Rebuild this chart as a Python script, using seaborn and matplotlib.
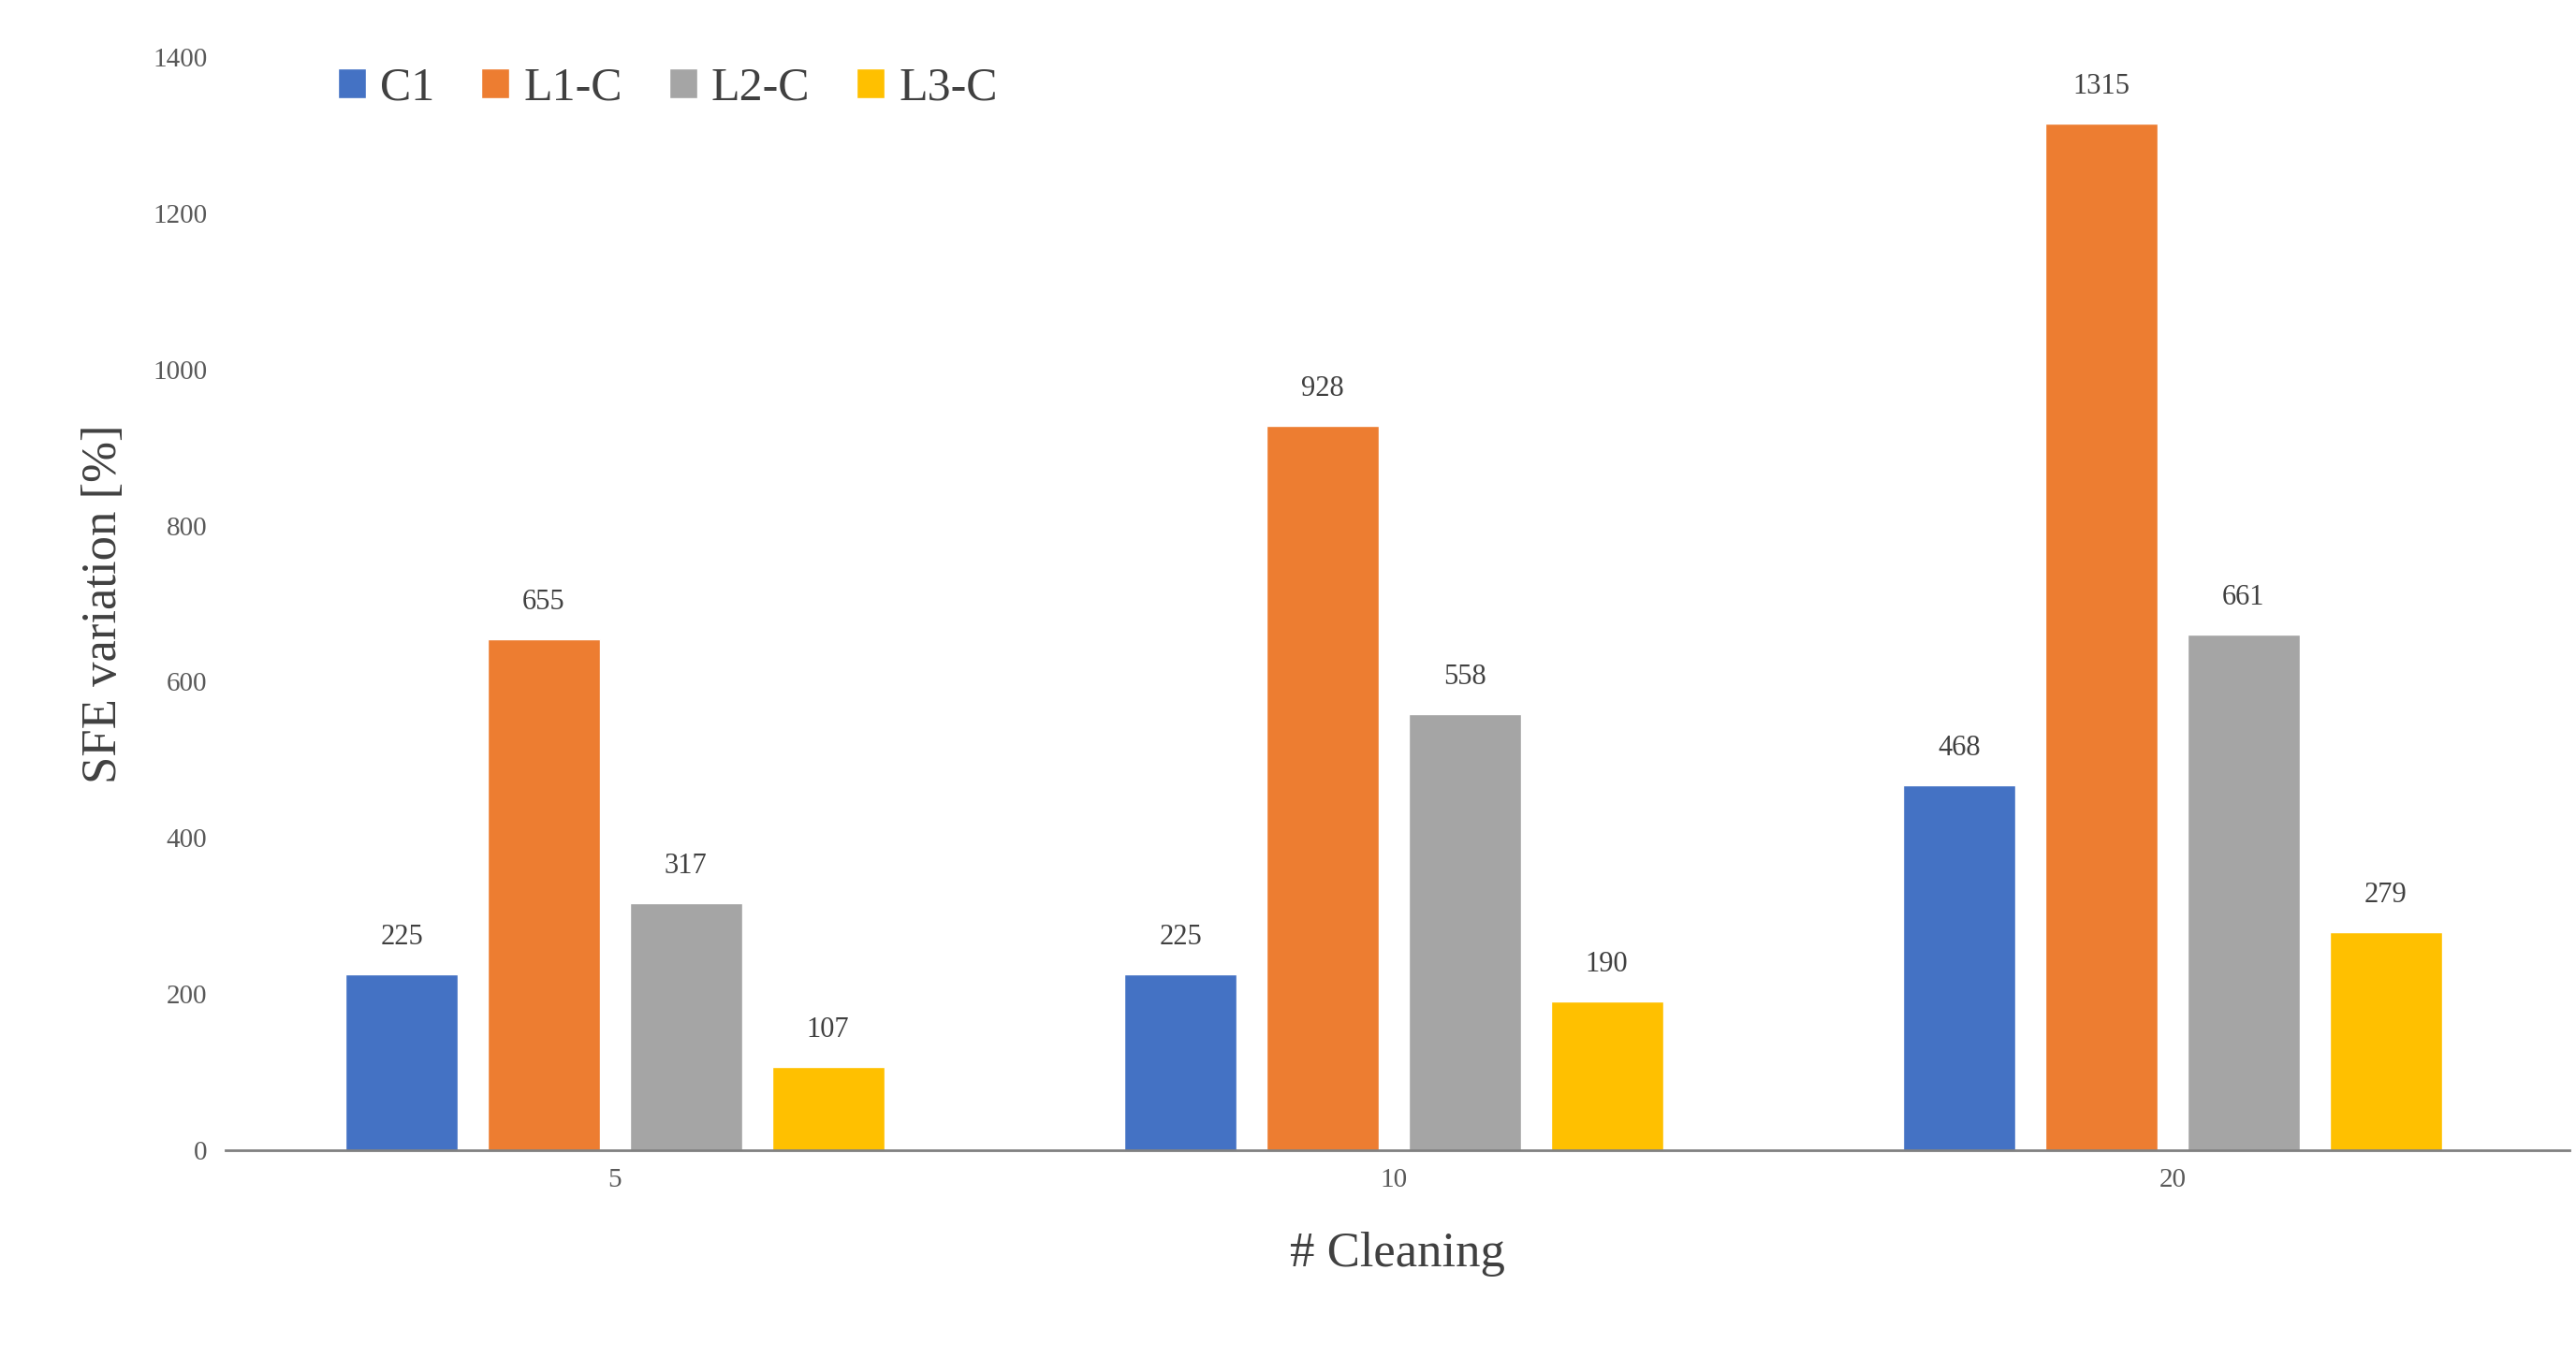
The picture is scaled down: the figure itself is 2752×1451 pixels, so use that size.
import pandas as pd
import matplotlib.pyplot as plt
import seaborn as sns

# data
cleanings = ['5', '10', '20']
series = ['C1', 'L1-C', 'L2-C', 'L3-C']
c1 = [225, 225, 468]
l1 = [655, 928, 1315]
l2 = [317, 558, 661]
l3 = [107, 190, 279]
colors = ['#4472C4', '#ED7D31', '#A5A5A5', '#FFC000']

rows = []
for name, vals in zip(series, [c1, l1, l2, l3]):
    for c, v in zip(cleanings, vals):
        rows.append({'cleaning': c, 'series': name, 'value': v})
df = pd.DataFrame(rows)

sns.set_style('white')
plt.rcParams['font.family'] = ['Liberation Serif', 'DejaVu Serif']

fig = plt.figure(figsize=(27.52, 14.51), dpi=100)
ax = fig.add_axes([0.0875, 0.153, 0.91, 0.805])
sns.barplot(data=df, x='cleaning', y='value', hue='series', palette=colors,
            width=0.73, gap=0.21, ax=ax, saturation=1)

for cont in ax.containers:
    ax.bar_label(cont, fmt='%d', padding=18, fontsize=22, color='#404040')

ax.set_ylim(0, 1400)
ax.set_yticks(range(0, 1401, 200))
ax.set_xlim(-0.5, 2.51)
ax.tick_params(axis='both', labelsize=21, colors='#595959', length=0, pad=14)
ax.set_xlabel('# Cleaning', fontsize=38, color='#404040', labelpad=30)
ax.set_ylabel('SFE variation [%]', fontsize=38, color='#404040', labelpad=20)
for s in ['top', 'right', 'left']:
    ax.spines[s].set_visible(False)
ax.spines['bottom'].set_color('#808080')
ax.spines['bottom'].set_linewidth(2)

ax.legend(loc='upper left', bbox_to_anchor=(0.03, 1.03), ncol=4, frameon=False,
          fontsize=36, handlelength=0.6, handleheight=0.6, handletextpad=0.3,
          columnspacing=1.0, labelcolor='#404040')

fig.savefig('out.png', dpi=100)
